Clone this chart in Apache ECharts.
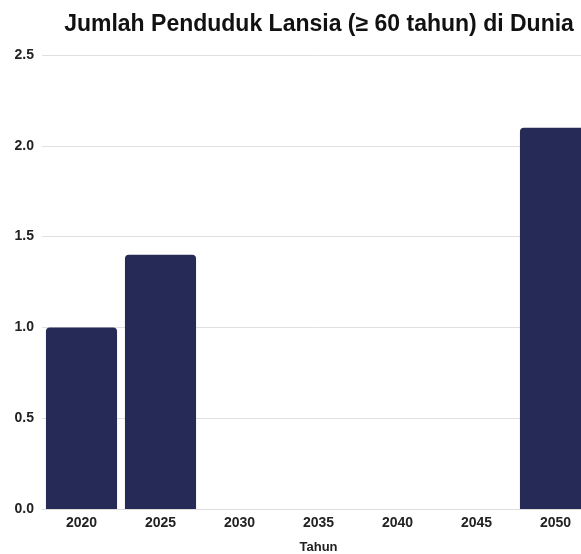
<!DOCTYPE html>
<html>
<head>
<meta charset="utf-8">
<script src="https://cdn.jsdelivr.net/npm/echarts@6/dist/echarts.min.js"></script>
<style>
  html, body { margin: 0; padding: 0; background: #fff; overflow: hidden; }
  #main { width: 600px; height: 554px; }
</style>
</head>
<body>
<div id="main"></div>
<script>
// data
var years = ["2020", "2025", "2030", "2035", "2040", "2045", "2050"];
var lansia = [1.0, 1.4, 0, 0, 0, 0, 2.1];

var chart = echarts.init(document.getElementById("main"));
var option = {
  animation: false,
  title: {
    text: "Jumlah Penduduk Lansia (≥ 60 tahun) di Dunia",
    left: 314,
    textAlign: "center",
    top: 8,
    textStyle: { fontFamily: "Liberation Sans, Arial, sans-serif", fontSize: 23, fontWeight: "bold", color: "#111" }
  },
  grid: { left: 42, top: 55, width: 553, bottom: 45, outerBoundsMode: "none", containLabel: false },
  xAxis: {
    type: "category",
    data: years,
    name: "Tahun",
    nameLocation: "middle",
    nameGap: 32,
    nameTextStyle: { fontFamily: "Liberation Sans, Arial, sans-serif", fontSize: 13, fontWeight: "bold", color: "#222" },
    axisLine: { show: true, lineStyle: { color: "#ddd" } },
    axisTick: { show: false },
    axisLabel: { fontFamily: "Liberation Sans, Arial, sans-serif", fontSize: 14, fontWeight: "bold", color: "#222", margin: 7 }
  },
  yAxis: {
    type: "value",
    min: 0,
    max: 2.5,
    interval: 0.5,
    axisLine: { show: false },
    axisTick: { show: false },
    splitLine: { lineStyle: { color: "#e0e0e0" } },
    axisLabel: {
      fontFamily: "Liberation Sans, Arial, sans-serif", fontSize: 14, fontWeight: "bold", color: "#222",
      margin: 8,
      formatter: function (v) { return v.toFixed(1); }
    }
  },
  series: [{
    type: "bar",
    data: lansia,
    barCategoryGap: "10%",
    itemStyle: { color: "#252a56", borderRadius: [4, 4, 0, 0] }
  }]
};
chart.setOption(option);
</script>
</body>
</html>
